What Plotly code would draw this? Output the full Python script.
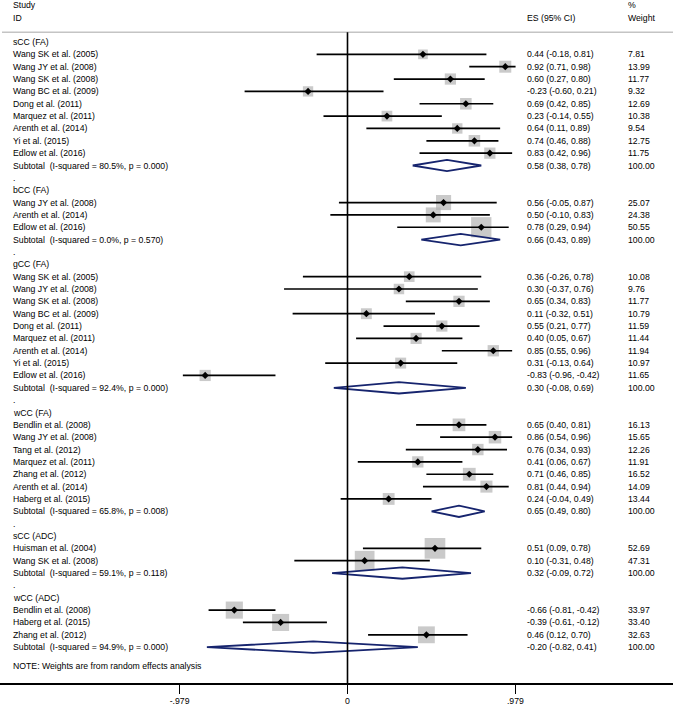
import math
import plotly.graph_objects as go

# ---------------- data ----------------
group_names = ["sCC (FA)", "bCC (FA)", "gCC (FA)", "wCC (FA)", "sCC (ADC)", "wCC (ADC)"]

study = [
    "Wang SK et al. (2005)", "Wang JY et al. (2008)", "Wang SK et al. (2008)", "Wang BC et al. (2009)",
    "Dong et al. (2011)", "Marquez et al. (2011)", "Arenth et al. (2014)", "Yi et al. (2015)", "Edlow et al. (2016)",
    "Wang JY et al. (2008)", "Arenth et al. (2014)", "Edlow et al. (2016)",
    "Wang SK et al. (2005)", "Wang JY et al. (2008)", "Wang SK et al. (2008)", "Wang BC et al. (2009)",
    "Dong et al. (2011)", "Marquez et al. (2011)", "Arenth et al. (2014)", "Yi et al. (2015)", "Edlow et al. (2016)",
    "Bendlin et al. (2008)", "Wang JY et al. (2008)", "Tang et al. (2012)", "Marquez et al. (2011)",
    "Zhang et al. (2012)", "Arenth et al. (2014)", "Haberg et al. (2015)",
    "Huisman et al. (2004)", "Wang SK et al. (2008)",
    "Bendlin et al. (2008)", "Haberg et al. (2015)", "Zhang et al. (2012)",
]
group = [0] * 9 + [1] * 3 + [2] * 9 + [3] * 7 + [4] * 2 + [5] * 3
es = [0.44, 0.92, 0.60, -0.23, 0.69, 0.23, 0.64, 0.74, 0.83,
      0.56, 0.50, 0.78,
      0.36, 0.30, 0.65, 0.11, 0.55, 0.40, 0.85, 0.31, -0.83,
      0.65, 0.86, 0.76, 0.41, 0.71, 0.81, 0.24,
      0.51, 0.10,
      -0.66, -0.39, 0.46]
lo = [-0.18, 0.71, 0.27, -0.60, 0.42, -0.14, 0.11, 0.46, 0.42,
      -0.05, -0.10, 0.29,
      -0.26, -0.37, 0.34, -0.32, 0.21, 0.05, 0.55, -0.13, -0.96,
      0.40, 0.54, 0.34, 0.06, 0.46, 0.44, -0.04,
      0.09, -0.31,
      -0.81, -0.61, 0.12]
hi = [0.81, 0.98, 0.80, 0.21, 0.85, 0.55, 0.89, 0.88, 0.96,
      0.87, 0.83, 0.94,
      0.78, 0.76, 0.83, 0.51, 0.77, 0.67, 0.96, 0.64, -0.42,
      0.81, 0.96, 0.93, 0.67, 0.85, 0.94, 0.49,
      0.78, 0.48,
      -0.42, -0.12, 0.70]
weight = [7.81, 13.99, 11.77, 9.32, 12.69, 10.38, 9.54, 12.75, 11.75,
          25.07, 24.38, 50.55,
          10.08, 9.76, 11.77, 10.79, 11.59, 11.44, 11.94, 10.97, 11.65,
          16.13, 15.65, 12.26, 11.91, 16.52, 14.09, 13.44,
          52.69, 47.31,
          33.97, 33.40, 32.63]

sub_i2 = [80.5, 0.0, 92.4, 65.8, 59.1, 94.9]
sub_p = [0.000, 0.570, 0.000, 0.008, 0.118, 0.000]
sub_es = [0.58, 0.66, 0.30, 0.65, 0.32, -0.20]
sub_lo = [0.38, 0.43, -0.08, 0.49, -0.09, -0.82]
sub_hi = [0.78, 0.89, 0.69, 0.80, 0.72, 0.41]

tick_vals = [-0.979, 0, 0.979]
tick_text = ["-.979", "0", ".979"]

# ---------------- layout geometry ----------------
W, H = 675, 707
MB, MR = 24, 2
PW, PH = W - MR, H - MB
X0PIX, XSCALE = 347.5, 171.5
ROW0, ROWH = 42.0, 12.35


def rpix(p):
    return 1 + (p - ROW0) / ROWH


def px(p):
    return p / PW


FONT = "Arial, Liberation Sans, Helvetica, sans-serif"
FS = 8.7
NAVY = "#16246e"
GRAY = "#b4b4b4"

annotations = []


def txt(x, y, s, size=FS):
    annotations.append(dict(x=px(x), y=y, xref="paper", yref="y", text=s, showarrow=False,
                            xanchor="left", yanchor="middle", font=dict(family=FONT, size=size, color="black")))


# build rows
study_rows = []
sub_rows = []
r = 1
for gi, g in enumerate(group_names):
    if gi > 0:
        txt(11, r, ".")
        r += 1
    txt(11, r, g)
    r += 1
    for i in range(len(study)):
        if group[i] == gi:
            study_rows.append(r)
            txt(11, r, study[i])
            txt(525, r, f"{es[i]:.2f} ({lo[i]:.2f}, {hi[i]:.2f})")
            txt(626, r, f"{weight[i]:.2f}")
            r += 1
    sub_rows.append(r)
    txt(11, r, f"Subtotal\u00a0 (I-squared = {sub_i2[gi]:.1f}%, p = {sub_p[gi]:.3f})")
    txt(525, r, f"{sub_es[gi]:.2f} ({sub_lo[gi]:.2f}, {sub_hi[gi]:.2f})")
    txt(626, r, "100.00")
    r += 1

# headers
txt(11, rpix(5), "Study")
txt(11, rpix(17.5), "ID")
txt(525, rpix(17.5), "ES (95% CI)")
txt(626, rpix(5), "%")
txt(626, rpix(17.5), "Weight")
txt(11, rpix(665.7), "NOTE: Weights are from random effects analysis")

fig = go.Figure()

# boxes
fig.add_trace(go.Scatter(
    x=es, y=study_rows, mode="markers",
    marker=dict(symbol="square", color=GRAY, size=[2.46 * math.sqrt(w) + 2.8 for w in weight],
                line=dict(width=0)),
    hoverinfo="skip", showlegend=False))

# CI lines
cx, cy = [], []
for i in range(len(es)):
    cx += [lo[i], hi[i], None]
    cy += [study_rows[i], study_rows[i], None]
fig.add_trace(go.Scatter(x=cx, y=cy, mode="lines", line=dict(color="black", width=1.7),
                         hoverinfo="skip", showlegend=False))

# point estimates
fig.add_trace(go.Scatter(x=es, y=study_rows, mode="markers",
                         marker=dict(symbol="diamond", color="black", size=5.5),
                         hoverinfo="skip", showlegend=False))

# subtotal diamonds
dx, dy = [], []
for gi in range(len(group_names)):
    rr = sub_rows[gi]
    dx += [sub_lo[gi], sub_es[gi], sub_hi[gi], sub_es[gi], sub_lo[gi], None]
    dy += [rr, rr - 0.46, rr, rr + 0.46, rr, None]
fig.add_trace(go.Scatter(x=dx, y=dy, mode="lines", line=dict(color=NAVY, width=1.8),
                         hoverinfo="skip", showlegend=False))

shapes = [
    # header separator
    dict(type="line", xref="paper", yref="paper", x0=px(2), x1=px(673),
         y0=(PH - 32.3) / PH, y1=(PH - 32.3) / PH, line=dict(color="#c4c4c4", width=1.5)),
    # no-effect line
    dict(type="line", xref="x", yref="paper", x0=0, x1=0, y0=0, y1=(PH - 32.3) / PH,
         line=dict(color="black", width=1.6)),
]

fig.update_layout(
    width=W, height=H,
    margin=dict(l=0, r=MR, t=0, b=MB, pad=0),
    paper_bgcolor="white", plot_bgcolor="white",
    showlegend=False,
    hovermode=False,
    annotations=annotations,
    shapes=shapes,
    xaxis=dict(range=[-X0PIX / XSCALE, (PW - X0PIX) / XSCALE], showgrid=False, zeroline=False,
               showline=True, linecolor="black", linewidth=1.6,
               ticks="outside", ticklen=9, tickwidth=1.6, tickcolor="black",
               tickvals=tick_vals, ticktext=tick_text,
               tickfont=dict(family=FONT, size=FS, color="black"), automargin=False, fixedrange=True),
    yaxis=dict(range=[rpix(PH), rpix(0)], visible=False, showgrid=False, zeroline=False,
               automargin=False, fixedrange=True),
)

fig.write_html("out.html",
               config={"displayModeBar": False, "staticPlot": True},
               post_script="document.body.style.margin='0';document.body.style.overflow='hidden';")
